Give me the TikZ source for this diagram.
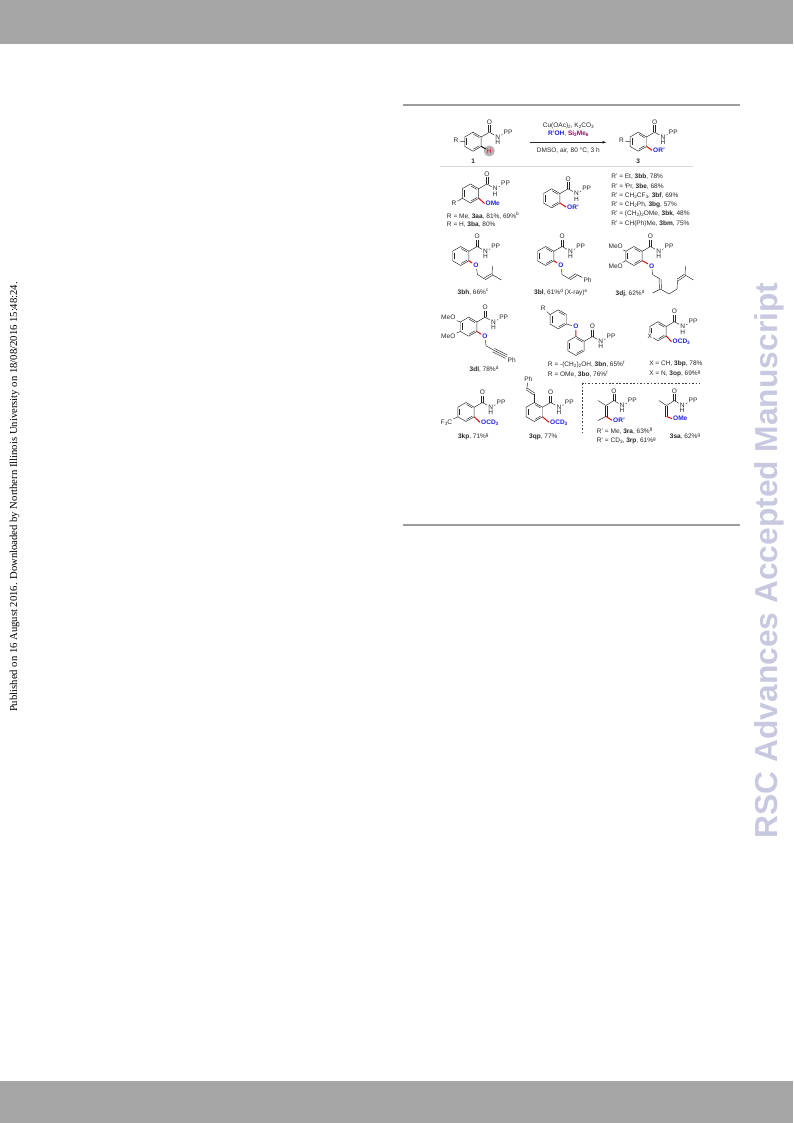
\documentclass[tikz,border=0pt]{standalone}
\usepackage{fontspec}
\setmainfont{Liberation Sans}
\newfontfamily\timesfont{Liberation Serif}
\usetikzlibrary{arrows.meta,calc}

\definecolor{bandgray}{HTML}{A6A6A6}
\definecolor{rulegray}{HTML}{9C9C9C}
\definecolor{thingray}{HTML}{DADADA}
\definecolor{stampblue}{HTML}{C8C8E0}
\definecolor{oxblue}{HTML}{2020E0}
\definecolor{bondred}{HTML}{E01010}
\definecolor{silane}{HTML}{8A1060}

\newcommand{\labsize}{\fontsize{4.9}{6}\selectfont}
\newcommand{\lsub}[1]{\raisebox{-0.7pt}{\fontsize{3.5}{4}\selectfont #1}}
\newcommand{\lsup}[1]{\raisebox{1.9pt}{\fontsize{3.5}{4}\selectfont #1}}

\tikzset{
  bond/.style={line width=0.35pt,color=black!85},
  redbond/.style={line width=0.75pt,color=bondred},
  atom/.style={font=\labsize,inner sep=0.7pt,text=black!85},
  oxlab/.style={font=\labsize\bfseries,inner sep=0.7pt,text=oxblue},
  txt/.style={font=\labsize,inner sep=0pt,anchor=west,text=black!85},
  ctxt/.style={font=\labsize,inner sep=0pt,text=black!85}
}

% two parallel strokes between two points
\newcommand{\dbond}[2]{
  \draw[bond] ($(#1)!0.75pt!90:(#2)$) -- ($(#2)!0.75pt!-90:(#1)$);
  \draw[bond] ($(#1)!0.75pt!-90:(#2)$) -- ($(#2)!0.75pt!90:(#1)$);
}
% benzene ring, pointy top
\newcommand{\benzring}[2]{
  \begin{scope}[shift={(#1,#2)}]
    \draw[bond] (0,-9.5) -- (8.2,-4.75) -- (8.2,4.75) -- (0,9.5) -- (-8.2,4.75) -- (-8.2,-4.75) -- cycle;
    \draw[bond] (0.6,-7.4) -- (6.3,-4.1);
    \draw[bond] (6.3,4.1) -- (0.6,7.4);
    \draw[bond] (-6.4,3.4) -- (-6.4,-3.4);
  \end{scope}
}
% CONHPP group hanging on the upper right corner of a ring
\newcommand{\amidegroup}[2]{
  \begin{scope}[shift={(#1,#2)}]
    \coordinate (cc) at (16.4,-9.5);
    \coordinate (ot) at (16.4,-16.2);
    \node[atom] (oo) at (16.4,-19.5) {O};
    \node[atom] (nn) at (24.7,-4.8) {N};
    \node[atom] (hh) at (24.7,0.6) {H};
    \node[atom] (pp) at (35,-9.9) {PP};
    \draw[bond] (8.2,-4.75) -- (cc);
    \dbond{cc}{ot}
    \draw[bond] (cc) -- (nn);
    \draw[bond] (nn) -- (pp);
  \end{scope}
}

\begin{document}
\begin{tikzpicture}[x=0.75pt,y=0.75pt,yscale=-1,xscale=1]
  \useasboundingbox (0,0) rectangle (793,1123);

  %page furniture
  \fill[bandgray] (0,0) rectangle (793,44);
  \fill[bandgray] (0,1081) rectangle (793,1123);
  \draw[rulegray,line width=1.9pt] (403,105) -- (740,105);
  \draw[rulegray,line width=1.5pt] (403,525) -- (740,525);
  \node[rotate=90,anchor=base,inner sep=0pt,font=\timesfont\fontsize{8}{9}\selectfont] (stamp) at (17,497) {Published on 16 August 2016. Downloaded by Northern Illinois University on 18/08/2016 15:48:24.};
  \node[rotate=90,anchor=base,inner sep=0pt,text=stampblue,font=\bfseries\fontsize{23.8}{25}\selectfont] (journal) at (777,560.5) {RSC Advances Accepted Manuscript};

  %reaction scheme
  \fill[black!30] (489.3,151) circle (5.5);
  \benzring{473}{141.7}
  \amidegroup{473}{141.7}
  \node[atom] (r1) at (456,140.7) {R};
  \draw[bond] (r1) -- (464.8,141.7);
  \node[atom,text=bondred,font=\labsize] (h1) at (489.3,151) {H};
  \draw[line width=0.7pt] (481.2,146.4) -- (h1);
  \node[ctxt,font=\labsize\bfseries] (n1) at (473.3,161.7) {1};

  \coordinate (arrowa) at (530,142.3);
  \coordinate (arrowb) at (606.7,142.3);
  \draw[bond,-{Latex[length=3pt,width=2pt]}] (arrowa) -- (arrowb);
  \node[ctxt] (cond1) at (568.3,125.7) {Cu(OAc)\lsub{2}, K\lsub{2}CO\lsub{3}};
  \node[ctxt] (cond2) at (568.3,133.6) {\textbf{\textcolor{oxblue}{R'OH}}, \textbf{\textcolor{silane}{Si\lsub{2}Me\lsub{6}}}};
  \node[ctxt] (cond3) at (568.3,151) {DMSO, air, 80 °C, 3 h};

  \benzring{638.3}{141.7}
  \amidegroup{638.3}{141.7}
  \node[atom] (r3) at (621.5,140.7) {R};
  \draw[bond] (r3) -- (630.1,141.7);
  \node[oxlab,anchor=west] (or3) at (652,150.4) {OR'};
  \draw[redbond] (646.5,146.4) -- (or3.west);
  \node[ctxt,font=\labsize\bfseries] (n3) at (638.3,161.7) {3};
  \draw[thingray,line width=1.1pt] (440,166.7) -- (692.7,166.7);

  %3aa and 3ba
  \benzring{470.5}{193.5}
  \amidegroup{470.5}{193.5}
  \node[atom] (raa) at (454,203.5) {R};
  \draw[bond] (raa) -- (462.3,198.2);
  \node[oxlab,anchor=west] (omeaa) at (484.5,203.5) {OMe};
  \draw[redbond] (478.7,198.2) -- (omeaa.west);
  \node[txt] (labaa) at (446.7,215.7) {R = Me, \textbf{3aa}, 81\%, 69\%\lsup{b}};
  \node[txt] (labba) at (446.7,225) {R = H, \textbf{3ba}, 80\%};

  %3b series
  \benzring{551.7}{198.3}
  \amidegroup{551.7}{198.3}
  \node[oxlab,anchor=west] (orb) at (566,207) {OR'};
  \draw[redbond] (559.9,203) -- (orb.west);
  \node[txt] (labbb) at (611,176.7) {R' = Et, \textbf{3bb}, 78\%};
  \node[txt] (labbe) at (611,186) {R' = \lsup{i}Pr, \textbf{3be}, 68\%};
  \node[txt] (labbf) at (611,195.4) {R' = CH\lsub{2}CF\lsub{3}, \textbf{3bf}, 69\%};
  \node[txt] (labbg) at (611,204.8) {R' = CH\lsub{2}Ph, \textbf{3bg}, 57\%};
  \node[txt] (labbk) at (611,214.3) {R' = (CH\lsub{2})\lsub{2}OMe, \textbf{3bk}, 48\%};
  \node[txt] (labbm) at (611,223.7) {R' = CH(Ph)Me, \textbf{3bm}, 75\%};

  %3bh
  \benzring{460.7}{256}
  \amidegroup{460.7}{256}
  \node[oxlab] (obh) at (476,265.7) {O};
  \draw[redbond] (468.9,260.7) -- (obh);
  \coordinate (bha) at (484.5,279);
  \coordinate (bhb) at (492,274.5);
  \draw[bond] (obh) -- (477.5,274.5) -- (bha);
  \dbond{bha}{bhb}
  \draw[bond] (bhb) -- (501.5,280);
  \draw[bond] (bhb) -- (492.5,266);
  \node[ctxt] (labbh) at (473,292.3) {\textbf{3bh}, 66\%\lsup{c}};

  %3bl
  \benzring{545.7}{256}
  \amidegroup{545.7}{256}
  \node[oxlab] (obl) at (561,265.7) {O};
  \draw[redbond] (553.9,260.7) -- (obl);
  \node[atom] (phbl) at (587.5,280) {Ph};
  \coordinate (bla) at (569.5,279);
  \coordinate (blb) at (576.5,274.5);
  \draw[bond] (obl) -- (562,274.5) -- (bla);
  \dbond{bla}{blb}
  \draw[bond] (blb) -- (phbl);
  \node[ctxt] (labbl) at (560.7,292.3) {\textbf{3bl}, 61\%\lsup{d} (X-ray)\lsup{e}};

  %3dj
  \benzring{634}{256}
  \amidegroup{634}{256}
  \node[atom] (meoa) at (615.7,246.5) {MeO};
  \node[atom] (meob) at (615.7,266) {MeO};
  \draw[bond] (meoa) -- (625.8,251.2);
  \draw[bond] (meob) -- (625.8,260.7);
  \node[oxlab] (odj) at (651.7,266) {O};
  \draw[redbond] (642.2,260.7) -- (odj);
  \coordinate (dja) at (660,279);
  \coordinate (djb) at (660.5,289);
  \coordinate (djc) at (677.5,280);
  \coordinate (djd) at (685,275);
  \draw[bond] (odj) -- (652.5,274.5) -- (dja);
  \dbond{dja}{djb}
  \draw[bond] (djb) -- (652.5,293);
  \draw[bond] (djb) -- (669,294) -- (677,289) -- (djc);
  \dbond{djc}{djd}
  \draw[bond] (djd) -- (685.5,266);
  \draw[bond] (djd) -- (693.5,280);
  \node[ctxt] (labdj) at (630,293.3) {\textbf{3dj}, 62\%\lsup{d}};

  %3dl
  \benzring{468.7}{326.7}
  \amidegroup{468.7}{326.7}
  \node[atom] (meoc) at (448.3,317.7) {MeO};
  \node[atom] (meod) at (448.3,336.7) {MeO};
  \draw[bond] (meoc) -- (460.5,322);
  \draw[bond] (meod) -- (460.5,331.4);
  \node[oxlab] (odl) at (485,336.7) {O};
  \draw[redbond] (476.9,331.4) -- (odl);
  \node[atom] (phdl) at (511.7,360) {Ph};
  \draw[bond] (odl) -- (486,345.7) -- (493.3,350);
  \draw[bond] (493.3,350) -- (506.7,356.8);
  \draw[bond] (494.4,348.4) -- (507.4,355);
  \draw[bond] (492.6,351.8) -- (505.6,358.4);
  \node[ctxt] (labdl) at (484,369.3) {\textbf{3dl}, 78\%\lsup{d}};

  %3bn and 3bo
  \benzring{558.3}{319.3}
  \node[atom] (rbn) at (543.3,308.3) {R};
  \draw[bond] (rbn) -- (550.1,314.6);
  \benzring{576}{346}
  \amidegroup{576}{346}
  \node[oxlab] (obn) at (575.8,326.7) {O};
  \draw[bond] (566.5,324) -- (obn);
  \draw[redbond] (obn) -- (576,336.5);
  \node[txt] (labbn) at (547.7,364.3) {R = -(CH\lsub{2})\lsub{2}OH, \textbf{3bn}, 65\%\lsup{f}};
  \node[txt] (labbo) at (547.7,374) {R = OMe, \textbf{3bo}, 76\%\lsup{f}};

  %3bp and 3op
  \benzring{658}{331.2}
  \amidegroup{658}{331.2}
  \node[atom,fill=white] (xop) at (649.8,336) {X};
  \node[oxlab,anchor=west] (ocdp) at (671.5,341.7) {OCD\lsub{3}};
  \draw[redbond] (666.2,336) -- (ocdp.west);
  \node[txt] (labbp) at (649,364.3) {X = CH, \textbf{3bp}, 78\%};
  \node[txt] (labop) at (649,374) {X = N, \textbf{3op}, 69\%\lsup{g}};

  %3kp
  \benzring{466}{412}
  \amidegroup{466}{412}
  \node[atom] (cf) at (446.5,422.3) {F\lsub{3}C};
  \draw[bond] (cf) -- (457.8,416.8);
  \node[oxlab,anchor=west] (ocdk) at (480,422.3) {OCD\lsub{3}};
  \draw[redbond] (474.2,416.8) -- (ocdk.west);
  \node[ctxt] (labkp) at (473.3,436.7) {\textbf{3kp}, 71\%\lsup{g}};

  %3qp
  \benzring{534.3}{412}
  \amidegroup{534.3}{412}
  \node[atom] (phqp) at (528.3,379) {Ph};
  \coordinate (qpa) at (534.3,394);
  \coordinate (qpb) at (526.7,389);
  \draw[bond] (534.3,402.5) -- (qpa);
  \dbond{qpa}{qpb}
  \draw[bond] (qpb) -- (phqp);
  \node[oxlab,anchor=west] (ocdq) at (549,422.3) {OCD\lsub{3}};
  \draw[redbond] (542.5,416.8) -- (ocdq.west);
  \node[ctxt] (labqp) at (543.3,436.7) {\textbf{3qp}, 77\%};

  %dotted corner
  \draw[line width=0.35pt,color=black!75,dash pattern=on 1.3pt off 1.3pt] (582.7,433.3) -- (582.7,383.3) -- (699.3,383.3);

  %3ra and 3rp
  \coordinate (cra) at (614,400.5);
  \coordinate (tra) at (614,394);
  \coordinate (ara) at (606,405.5);
  \coordinate (bra) at (606,416.5);
  \node[atom] (ora) at (614,391) {O};
  \node[atom] (nra) at (622,405.7) {N};
  \node[atom] (hra) at (622,410.7) {H};
  \node[atom] (ppra) at (632.3,400.5) {PP};
  \dbond{cra}{tra}
  \draw[bond] (ara) -- (cra) -- (nra) -- (ppra);
  \draw[bond] (ara) -- (598,400.5);
  \dbond{ara}{bra}
  \draw[bond] (bra) -- (598,420.5);
  \node[oxlab,anchor=west] (orra) at (612,420.3) {OR'};
  \draw[redbond] (bra) -- (orra.west);
  \node[txt] (labra) at (596.7,431) {R' = Me, \textbf{3ra}, 63\%\lsup{g}};
  \node[txt] (labrp) at (596.7,440.7) {R' = CD\lsub{3}, \textbf{3rp}, 61\%\lsup{g}};

  %3sa
  \coordinate (csa) at (674.3,400.5);
  \coordinate (tsa) at (674.3,394);
  \coordinate (asa) at (666.5,405.5);
  \coordinate (bsa) at (666.5,416.5);
  \node[atom] (osa) at (674.3,391) {O};
  \node[atom] (nsa) at (682.3,405.5) {N};
  \node[atom] (hsa) at (682.3,410.3) {H};
  \node[atom] (ppsa) at (693,400) {PP};
  \dbond{csa}{tsa}
  \draw[bond] (asa) -- (csa) -- (nsa) -- (ppsa);
  \draw[bond] (asa) -- (658.8,400.5);
  \dbond{asa}{bsa}
  \node[oxlab,anchor=west] (omesa) at (672,418.7) {OMe};
  \draw[redbond] (bsa) -- (omesa.west);
  \node[ctxt] (labsa) at (685,436.7) {\textbf{3sa}, 62\%\lsup{g}};
\end{tikzpicture}
\end{document}
